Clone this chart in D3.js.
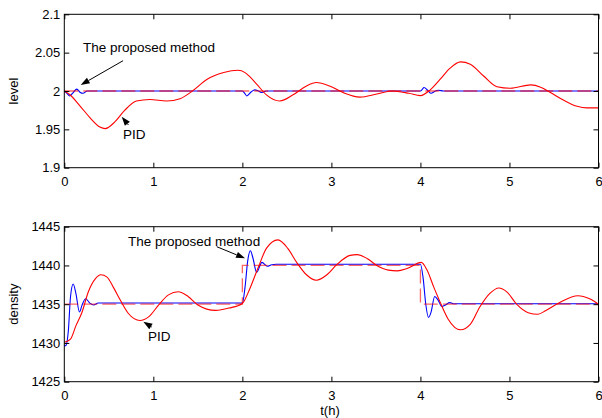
<!DOCTYPE html>
<html>
<head>
<meta charset="utf-8">
<script src="https://cdn.jsdelivr.net/npm/d3@7"></script>
<style>
body { margin:0; background:#fff; }
svg { display:block; font-family: "Liberation Sans", Arial, sans-serif; }
.axis text { font-size:13px; fill:#000; }
.axis line { stroke:#000; }
.frame { fill:none; stroke:#000; stroke-width:1; }
.pid { fill:none; stroke:#ff0000; stroke-width:1.1; }
.prop { fill:none; stroke:#0000ff; stroke-width:1.1; }
.ref { fill:none; stroke:#ff0000; stroke-width:1.3; stroke-dasharray:14,5; stroke-opacity:.6; }
.lbl { font-size:13.5px; fill:#000; }
</style>
</head>
<body>
<div id="chart"></div>
<script>
// ---- level panel data ----
const levelTicks = [1.9, 1.95, 2, 2.05, 2.1]
const levelRefT = [0, 6]
const levelRefV = [2, 2]
const levelPidT = [0, 0.06, 0.18, 0.29, 0.40, 0.46, 0.57, 0.68, 0.81, 0.96, 1.15, 1.30, 1.45, 1.60, 1.79, 1.95, 2.03, 2.08, 2.16, 2.27, 2.42, 2.57, 2.72, 2.83, 2.98, 3.13, 3.32, 3.51, 3.68, 3.87, 4.0, 4.11, 4.22, 4.33, 4.45, 4.56, 4.71, 4.86, 5.01, 5.24, 5.35, 5.46, 5.61, 5.76, 5.87, 6.0]
const levelPidV = [2.0, 1.9955, 1.98, 1.965, 1.953, 1.951, 1.96, 1.975, 1.987, 1.989, 1.987, 1.990, 2.001, 2.015, 2.024, 2.027, 2.024, 2.019, 2.009, 1.995, 1.987, 1.995, 2.0065, 2.011, 2.0065, 1.998, 1.992, 1.996, 2.0, 1.997, 1.994, 2.0015, 2.015, 2.0295, 2.038, 2.035, 2.0195, 2.0055, 2.0035, 2.008, 2.005, 1.998, 1.988, 1.980, 1.978, 1.978]
const levelPropT = [0, 0.03, 0.06, 0.1, 0.14, 0.18, 0.21, 0.26, 2.0, 2.02, 2.05, 2.1, 2.14, 2.18, 2.22, 2.27, 4.0, 4.02, 4.04, 4.08, 4.12, 4.16, 4.2, 4.26, 6.0]
const levelPropV = [2.0, 1.997, 1.9935, 1.998, 2.0025, 1.998, 1.997, 2.0, 2.0, 1.998, 1.9935, 1.999, 2.0015, 2.0, 1.998, 2.0, 2.0, 2.002, 2.0045, 2.001, 1.997, 1.9995, 2.001, 2.0, 2.0]

// ---- density panel data ----
const densTicks = [1425, 1430, 1435, 1440, 1445]
const densRefT = [0, 2, 2, 4, 4, 6]
const densRefV = [1435, 1435, 1440, 1440, 1435, 1435]
const densPidT = [0, 0.07, 0.13, 0.2, 0.27, 0.35, 0.41, 0.48, 0.55, 0.63, 0.72, 0.85, 0.95, 1.06, 1.17, 1.28, 1.39, 1.5, 1.7, 1.85, 2.0, 2.08, 2.18, 2.27, 2.4, 2.51, 2.61, 2.72, 2.83, 2.95, 3.06, 3.21, 3.29, 3.4, 3.51, 3.64, 3.74, 3.85, 4.01, 4.07, 4.15, 4.22, 4.31, 4.45, 4.56, 4.67, 4.78, 4.88, 4.97, 5.08, 5.21, 5.32, 5.41, 5.56, 5.77, 5.9, 6.0]
const densPidV = [1430.1, 1430.5, 1432.2, 1434.0, 1436.6, 1438.3, 1438.8, 1438.5, 1437.2, 1435.5, 1433.8, 1432.9, 1433.4, 1434.9, 1436.2, 1436.6, 1436.0, 1434.9, 1434.2, 1434.5, 1435.1, 1436.9, 1439.8, 1442.2, 1443.3, 1442.2, 1440.4, 1438.8, 1438.1, 1438.8, 1440.1, 1441.3, 1441.4, 1440.9, 1440.0, 1439.4, 1439.3, 1439.6, 1440.4, 1439.5, 1437.2, 1435.3, 1433.1, 1431.7, 1432.4, 1434.7, 1436.4, 1437.1, 1436.6, 1435.0, 1433.9, 1433.7, 1434.2, 1435.2, 1436.1, 1435.7, 1435.0]
const densPropT = [0, 0.02, 0.045, 0.07, 0.1, 0.13, 0.17, 0.2, 0.24, 0.29, 0.33, 0.38, 2.0, 2.03, 2.06, 2.09, 2.12, 2.16, 2.22, 2.28, 2.33, 2.38, 4.0, 4.03, 4.06, 4.09, 4.12, 4.16, 4.2, 4.24, 4.28, 4.33, 4.38, 6.0]
const densPropV = [1429.6, 1429.7, 1431.5, 1436.0, 1437.6, 1436.4, 1434.0, 1434.9, 1435.7, 1435.1, 1434.9, 1435.15, 1435.15, 1437.2, 1440.6, 1441.9, 1440.9, 1439.1, 1440.4, 1439.9, 1440.1, 1440.15, 1440.15, 1438.4, 1435.0, 1433.3, 1434.0, 1436.0, 1435.5, 1434.7, 1434.9, 1435.2, 1435.05, 1435.05]

const xTicks = [0, 1, 2, 3, 4, 5, 6]

const width = 602, height = 418
const left = 64.3, right = 598.5

const svg = d3.select('#chart').append('svg')
.attr('width', width)
.attr('height', height)

const xScale = d3.scaleLinear().domain([0, 6]).range([left, right])

const zip = (t, v) => t.map((d, i) => ({t: d, v: v[i]}))

function panel(cfg) {

	const y = d3.scaleLinear().domain(cfg.domain).range([cfg.bottom, cfg.top])
	const g = svg.append('g')

	const line = d3.line()
	.curve(d3.curveMonotoneX)
	.x(d => xScale(d.t))
	.y(d => y(d.v))

	const stepLine = d3.line()
	.x(d => xScale(d.t))
	.y(d => y(d.v))

	g.append('path').attr('class', 'prop').attr('d', line(cfg.prop))
	g.append('path').attr('class', 'pid').attr('d', line(cfg.pid))
	g.append('path').attr('class', 'ref').attr('d', stepLine(cfg.ref))

	// axes, matlab style ticks inside on all sides
	g.append('g').attr('class', 'axis')
	.attr('transform', `translate(${left},0)`)
	.call(d3.axisLeft(y).tickValues(cfg.ticks).tickSize(-5).tickSizeOuter(0).tickPadding(4).tickFormat(d3.format('')))
	.call(a => a.select('.domain').remove())

	g.append('g').attr('class', 'axis')
	.attr('transform', `translate(${right},0)`)
	.call(d3.axisRight(y).tickValues(cfg.ticks).tickSize(-5).tickSizeOuter(0).tickFormat(''))
	.call(a => a.select('.domain').remove())

	g.append('g').attr('class', 'axis')
	.attr('transform', `translate(0,${cfg.bottom})`)
	.call(d3.axisBottom(xScale).tickValues(xTicks).tickSize(-5).tickSizeOuter(0).tickPadding(9).tickFormat(d3.format('d')))
	.call(a => a.select('.domain').remove())

	g.append('g').attr('class', 'axis')
	.attr('transform', `translate(0,${cfg.top})`)
	.call(d3.axisTop(xScale).tickValues(xTicks).tickSize(-5).tickSizeOuter(0).tickFormat(''))
	.call(a => a.select('.domain').remove())

	g.append('rect').attr('class', 'frame')
	.attr('x', left).attr('y', cfg.top)
	.attr('width', right - left).attr('height', cfg.bottom - cfg.top)

	g.append('text')
	.attr('class', 'lbl')
	.attr('transform', `translate(18,${(cfg.top + cfg.bottom) / 2}) rotate(-90)`)
	.attr('text-anchor', 'middle')
	.style('font-size', '13px')
	.text(cfg.ylabel)

	cfg.notes.forEach(n => {
		g.append('text').attr('class', 'lbl')
		.attr('x', xScale(n.tx)).attr('y', y(n.ty))
		.text(n.text)

		const x1 = xScale(n.ax1), y1 = y(n.ay1), x2 = xScale(n.ax2), y2 = y(n.ay2)
		const ang = Math.atan2(y2 - y1, x2 - x1)
		const hl = 9, hw = 3.2
		const bx = x2 - hl * Math.cos(ang), by = y2 - hl * Math.sin(ang)

		g.append('line')
		.attr('x1', x1).attr('y1', y1).attr('x2', bx).attr('y2', by)
		.attr('stroke', '#000').attr('stroke-width', 1)

		g.append('path')
		.attr('d', `M${x2},${y2}L${bx + hw * Math.sin(ang)},${by - hw * Math.cos(ang)}L${bx - hw * Math.sin(ang)},${by + hw * Math.cos(ang)}Z`)
		.attr('fill', '#000')
	})

	return y
}

panel({
	top: 14.3, bottom: 167.7, domain: [1.9, 2.1], ticks: levelTicks, ylabel: 'level',
	ref: zip(levelRefT, levelRefV), pid: zip(levelPidT, levelPidV), prop: zip(levelPropT, levelPropV),
	notes: [
		{text: 'The proposed method', tx: 0.21, ty: 2.0508, ax1: 0.66, ay1: 2.0395, ax2: 0.184, ay2: 2.0078},
		{text: 'PID', tx: 0.66, ty: 1.938, ax1: 0.72, ay1: 1.9557, ax2: 0.645, ay2: 1.9665}
	]
})

panel({
	top: 226.7, bottom: 381.7, domain: [1425, 1445], ticks: densTicks, ylabel: 'density',
	ref: zip(densRefT, densRefV), pid: zip(densPidT, densPidV), prop: zip(densPropT, densPropV),
	notes: [
		{text: 'The proposed method', tx: 0.716, ty: 1442.57, ax1: 1.712, ay1: 1442.42, ax2: 2.03, ay2: 1440.92},
		{text: 'PID', tx: 0.94, ty: 1430.19, ax1: 0.982, ay1: 1432.06, ax2: 0.888, ay2: 1432.74}
	]
})

svg.append('text')
.attr('class', 'lbl')
.attr('x', 330).attr('y', 415)
.attr('text-anchor', 'middle')
.style('font-size', '13px')
.text('t(h)')
</script>
</body>
</html>
